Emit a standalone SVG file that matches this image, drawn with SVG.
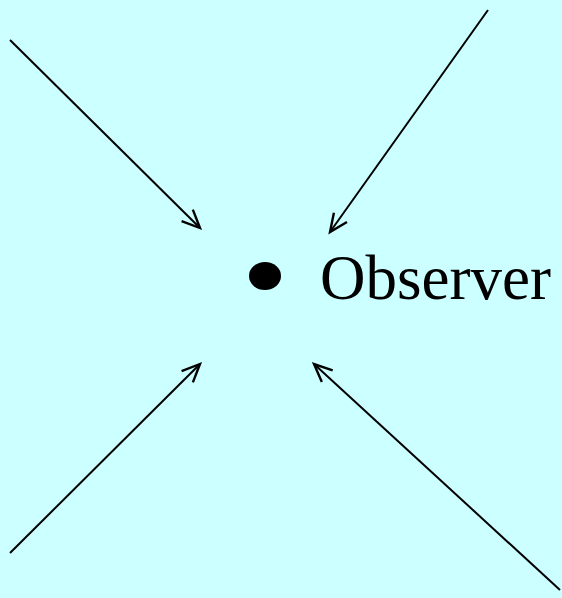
<svg xmlns="http://www.w3.org/2000/svg" width="562" height="598" viewBox="0 0 562 598">
<style>
.c{stroke:#000;stroke-width:2;fill:none;marker-end:url(#a)}
.t{font-family:"Liberation Serif",serif;font-size:63px;fill:#000}
</style>
<defs>
<marker id="a" markerUnits="userSpaceOnUse" markerWidth="30" markerHeight="30" refX="20" refY="10" orient="auto" viewBox="0 0 30 20" overflow="visible">
<path d="M2,2 L20,10 L2,18" fill="none" stroke="#000" stroke-width="2.4"/>
</marker>
</defs>
<rect width="562" height="598" fill="#ccffff"/>
<g id="connectors">
<line class="c" x1="10" y1="40" x2="200" y2="228"/>
<line class="c" x1="488" y1="10" x2="330" y2="232"/>
<line class="c" x1="10" y1="553" x2="200" y2="364"/>
<line class="c" x1="560" y1="590" x2="314" y2="364"/>
</g>
<g id="observer">
<ellipse cx="265" cy="276" rx="16" ry="14" fill="#000"/>
<text class="t" x="320" y="299">Observer</text>
</g>
</svg>
